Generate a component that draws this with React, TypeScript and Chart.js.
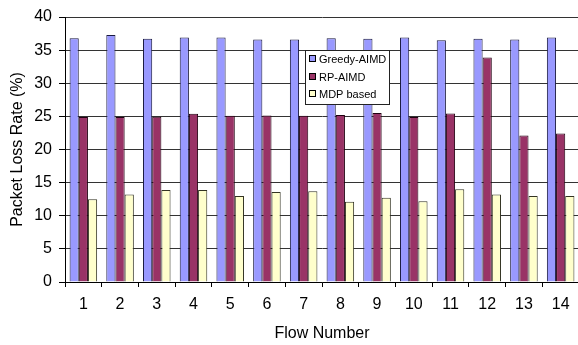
import React, { useEffect, useRef } from "react";
import { Chart, registerables } from "chart.js";

Chart.register(...registerables);

const flows = ["1", "2", "3", "4", "5", "6", "7", "8", "9", "10", "11", "12", "13", "14"];
const greedyAIMD = [36.8, 37.3, 36.7, 36.9, 36.9, 36.6, 36.6, 36.8, 36.7, 36.9, 36.5, 36.7, 36.6, 36.9];
const rpAIMD = [24.9, 24.9, 24.95, 25.4, 25.1, 25.15, 25.1, 25.2, 25.5, 24.9, 25.45, 33.9, 22.1, 22.4];
const mdpBased = [12.5, 13.2, 13.9, 13.9, 13.0, 13.6, 13.7, 12.1, 12.7, 12.2, 14.0, 13.2, 13.0, 13.0];

const FONT = '"Liberation Sans", Arial, sans-serif';

const boxLegend = {
  id: "boxLegend",
  afterDraw(chart: any) {
    const { ctx, chartArea } = chart;
    const x = Math.round(chartArea.left + 240);
    const y = Math.round(chartArea.top + 33);
    const w = 84;
    const h = 54;
    ctx.save();
    ctx.fillStyle = "#ffffff";
    ctx.fillRect(x, y, w, h);
    ctx.strokeStyle = "#222";
    ctx.lineWidth = 1;
    ctx.strokeRect(x + 0.5, y + 0.5, w, h);
    ctx.font = `11px ${FONT}`;
    ctx.textBaseline = "middle";
    ctx.textAlign = "left";
    chart.data.datasets.forEach((ds: any, i: number) => {
      const cy = Math.round(y + 9 + i * 17.7);
      ctx.fillStyle = ds.backgroundColor;
      ctx.fillRect(x + 4, cy - 3, 6, 6);
      ctx.strokeStyle = "#000";
      ctx.strokeRect(x + 4.5, cy - 3.5, 6, 6);
      ctx.fillStyle = "#000";
      ctx.fillText(ds.label, x + 14, cy + 0.5);
    });
    ctx.restore();
  },
};

export default function App() {
  const ref = useRef<HTMLCanvasElement | null>(null);
  useEffect(() => {
    if (!ref.current) return;
    const chart = new Chart(ref.current, {
      type: "bar",
      data: {
        labels: flows,
        datasets: [
          { label: "Greedy-AIMD", data: greedyAIMD, backgroundColor: "#9999FF", borderColor: "#1a1a40", borderWidth: 1 },
          { label: "RP-AIMD", data: rpAIMD, backgroundColor: "#993366", borderColor: "#200010", borderWidth: 1 },
          { label: "MDP based", data: mdpBased, backgroundColor: "#FFFFCC", borderColor: "#333322", borderWidth: 1 },
        ],
      },
      options: {
        animation: false,
        responsive: false,
        maintainAspectRatio: false,
        layout: { padding: { top: 17, right: 5, bottom: 0, left: 0 } },
        datasets: { bar: { categoryPercentage: 0.75, barPercentage: 1.0 } },
        plugins: { legend: { display: false }, tooltip: { enabled: false } },
        scales: {
          x: {
            afterFit(scale: any) {
              scale.height = 63;
            },
            grid: { display: true, drawOnChartArea: false, drawTicks: true, tickLength: 5, tickColor: "#000", offset: true },
            border: { display: true, color: "#000" },
            ticks: { color: "#000", font: { family: FONT, size: 16 }, padding: 8, maxRotation: 0, autoSkip: false },
            title: { display: true, text: "Flow Number", color: "#000", font: { family: FONT, size: 16 }, padding: { top: 0, bottom: 2 } },
          },
          y: {
            min: 0,
            max: 40,
            afterFit(scale: any) {
              scale.width = 65;
            },
            grid: { color: "#333", lineWidth: 1, drawTicks: true, tickLength: 6, tickColor: "#000" },
            border: { display: true, color: "#000" },
            ticks: { stepSize: 5, color: "#000", font: { family: FONT, size: 16 }, padding: 7 },
            title: { display: true, text: "Packet Loss Rate (%)", color: "#000", font: { family: FONT, size: 16 }, padding: { top: 8, bottom: 0 } },
          },
        },
      },
      plugins: [boxLegend],
    });
    return () => chart.destroy();
  }, []);
  return (
    <div style={{ position: "fixed", left: 0, top: 0, width: 578, height: 345, overflow: "hidden", background: "#fff" }}>
      <canvas ref={ref} width={584} height={345} style={{ display: "block", width: 584, height: 345 }} />
    </div>
  );
}
